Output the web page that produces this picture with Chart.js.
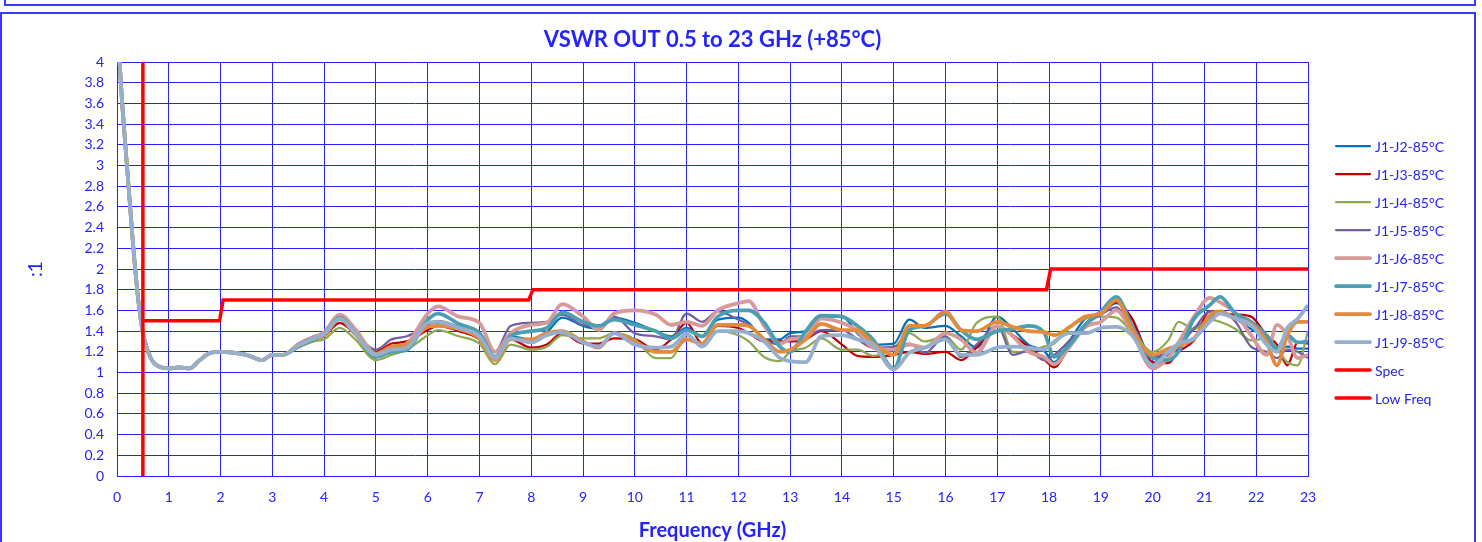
<!DOCTYPE html>
<html>
<head>
<meta charset="utf-8">
<script src="https://cdn.jsdelivr.net/npm/chart.js@4"></script>
<style>
  body { margin: 0; background: #fff; overflow: hidden; }
  .prev { position: absolute; left: 4px; top: -10px; width: 1468px; height: 12px; border: 2px solid #3a3aff; }
  .box { position: absolute; left: 0; top: 12px; width: 1472px; height: 530px; border: 2px solid #3a3aff; }
  canvas { display: block; }
</style>
</head>
<body>
<div class="prev"></div>
<div class="box"><canvas id="vswr" width="1472" height="530"></canvas></div>
<script>
// frequency points (GHz)
const freq = [0.05, 0.1, 0.2, 0.3, 0.4, 0.5, 0.6, 0.7, 0.8, 1.0, 1.2, 1.4, 1.6, 1.8, 2.0, 2.5, 2.8, 3.0, 3.2,
  3.5, 3.8, 4.0, 4.3, 4.6, 5.0, 5.3, 5.6, 6.0, 6.2, 6.6, 7.0, 7.3, 7.6, 8.0, 8.3, 8.6, 9.0, 9.3, 9.6,
  10.0, 10.4, 10.7, 11.0, 11.3, 11.6, 12.0, 12.2, 12.5, 12.8, 13.0, 13.3, 13.6, 14.0, 14.3, 14.6,
  15.0, 15.3, 15.6, 16.0, 16.3, 16.6, 17.0, 17.3, 17.6, 17.9, 18.1, 18.4, 18.7, 19.0, 19.3, 19.6,
  20.0, 20.3, 20.5, 20.8, 21.1, 21.3, 21.6, 21.9, 22.2, 22.4, 22.6, 22.8, 23.0];

// all paths overlap below ~3.3 GHz
const lowBand = [4.0, 3.6, 2.95, 2.3, 1.75, 1.38, 1.2, 1.1, 1.06, 1.04, 1.05, 1.04, 1.12, 1.19, 1.2, 1.17, 1.12, 1.17, 1.17];

const j2 = lowBand.concat([1.26,1.33,1.37,1.51,1.38, 1.16,1.20,1.25,1.48,1.48, 1.42,1.34,1.15,1.35,1.32, 1.39,1.53,1.45,1.42,1.53,
  1.48,1.40,1.35,1.43,1.35, 1.51,1.53,1.48,1.32,1.32, 1.38,1.40,1.54,1.54,1.38, 1.27,1.28,1.51,1.43,1.45,
  1.35,1.24,1.54,1.42,1.27, 1.21,1.10,1.31,1.52,1.57, 1.67,1.52,1.14,1.17,1.23, 1.43,1.51,1.59,1.52,1.42, 1.33,1.20,1.25,1.23,1.23]);
const j3 = lowBand.concat([1.26,1.32,1.35,1.48,1.37, 1.20,1.28,1.30,1.41,1.45, 1.40,1.32,1.14,1.32,1.24, 1.27,1.38,1.28,1.28,1.33,
  1.32,1.22,1.32,1.48,1.28, 1.45,1.43,1.38,1.30,1.30, 1.30,1.32,1.40,1.27,1.16, 1.15,1.17,1.20,1.18,1.20,
  1.12,1.24,1.45,1.36,1.25, 1.13,1.05,1.27,1.47,1.58, 1.68,1.52,1.10,1.09,1.20, 1.31,1.59,1.57,1.56,1.54, 1.36,1.27,1.07,1.29,1.28]);
const j4 = lowBand.concat([1.24,1.30,1.32,1.43,1.32, 1.12,1.17,1.22,1.36,1.41, 1.35,1.28,1.08,1.27,1.22, 1.25,1.36,1.33,1.33,1.38,
  1.32,1.14,1.14,1.36,1.27, 1.40,1.36,1.30,1.15,1.11, 1.20,1.24,1.33,1.22,1.22, 1.16,1.24,1.38,1.30,1.35,
  1.22,1.48,1.54,1.20,1.20, 1.25,1.28,1.44,1.52,1.54, 1.53,1.39,1.20,1.31,1.49, 1.42,1.51,1.49,1.42,1.31, 1.33,1.23,1.10,1.07,1.40]);
const j5 = lowBand.concat([1.28,1.35,1.38,1.52,1.38, 1.22,1.32,1.35,1.46,1.50, 1.44,1.36,1.20,1.45,1.48, 1.49,1.56,1.46,1.45,1.54,
  1.38,1.35,1.32,1.57,1.49, 1.59,1.51,1.46,1.32,1.27, 1.35,1.35,1.41,1.41,1.32, 1.24,1.25,1.28,1.19,1.35,
  1.15,1.27,1.45,1.17,1.21, 1.12,1.17,1.31,1.46,1.56, 1.63,1.36,1.15,1.20,1.28, 1.42,1.59,1.59,1.49,1.25, 1.20,1.14,1.22,1.20,1.14]);
const j6 = lowBand.concat([1.27,1.34,1.39,1.56,1.42, 1.18,1.24,1.28,1.57,1.64, 1.54,1.48,1.20,1.38,1.46, 1.48,1.66,1.54,1.41,1.57,
  1.60,1.56,1.46,1.49,1.45, 1.60,1.67,1.69,1.45,1.28, 1.32,1.35,1.52,1.48,1.40, 1.24,1.22,1.27,1.24,1.38,
  1.32,1.19,1.45,1.35,1.20, 1.15,1.08,1.25,1.44,1.49, 1.60,1.39,1.04,1.14,1.29, 1.54,1.72,1.68,1.57,1.36, 1.17,1.46,1.36,1.14,1.17]);
const j7 = lowBand.concat([1.25,1.32,1.37,1.53,1.38, 1.15,1.20,1.22,1.51,1.57, 1.47,1.38,1.15,1.35,1.40, 1.43,1.58,1.49,1.45,1.51,
  1.46,1.40,1.33,1.41,1.35, 1.54,1.60,1.60,1.48,1.25, 1.20,1.40,1.55,1.54,1.45, 1.32,1.04,1.41,1.45,1.57,
  1.41,1.32,1.40,1.42,1.45, 1.39,1.15,1.27,1.46,1.59, 1.73,1.45,1.14,1.12,1.20, 1.52,1.65,1.73,1.57,1.49, 1.36,1.23,1.36,1.29,1.30]);
const j8 = lowBand.concat([1.26,1.33,1.36,1.52,1.37, 1.18,1.25,1.27,1.44,1.45, 1.42,1.33,1.12,1.32,1.32, 1.38,1.40,1.30,1.24,1.38,
  1.30,1.20,1.20,1.32,1.28, 1.46,1.46,1.45,1.32,1.20, 1.22,1.32,1.47,1.41,1.41, 1.28,1.17,1.45,1.45,1.59,
  1.41,1.40,1.49,1.44,1.40, 1.39,1.36,1.44,1.54,1.57, 1.70,1.42,1.17,1.23,1.26, 1.33,1.55,1.59,1.52,1.47, 1.30,1.07,1.36,1.49,1.49]);
const j9 = lowBand.concat([1.26,1.33,1.37,1.52,1.38, 1.17,1.22,1.24,1.48,1.49, 1.43,1.35,1.14,1.33,1.29, 1.36,1.39,1.29,1.25,1.38,
  1.27,1.24,1.25,1.37,1.25, 1.40,1.40,1.38,1.30,1.14, 1.11,1.10,1.35,1.36,1.32, 1.27,1.03,1.19,1.24,1.32,
  1.17,1.17,1.24,1.25,1.24, 1.22,1.30,1.38,1.38,1.43, 1.44,1.36,1.07,1.20,1.28, 1.33,1.49,1.57,1.52,1.46, 1.27,1.20,1.43,1.52,1.65]);

// spec mask
const specFreq = [0.5, 1.98, 2.05, 7.95, 8.03, 17.95, 18.03, 23];
const specVswr = [1.5, 1.5, 1.7, 1.7, 1.8, 1.8, 2.0, 2.0];
const lowFreqFreq = [0.5, 0.5];
const lowFreqVswr = [0, 4];

const blue = 'rgb(35,35,255)';
Chart.defaults.font.family = 'Lato';

function pts(xs, ys) {
  return xs.map((x, i) => ({ x: x, y: ys[i] }));
}

function trace(label, values, color, width, order) {
  return {
    label: label,
    data: pts(freq, values),
    borderColor: color,
    backgroundColor: color,
    borderWidth: width,
    pointRadius: 0,
    cubicInterpolationMode: 'monotone',
    order: order
  };
}

const sideLegend = {
  id: 'sideLegend',
  afterDraw(chart) {
    const { ctx, chartArea } = chart;
    ctx.save();
    ctx.font = '14px Lato';
    ctx.textBaseline = 'middle';
    ctx.fillStyle = blue;
    ctx.lineCap = 'round';
    chart.data.datasets.forEach((ds, i) => {
      const x = chartArea.right + 28;
      const y = chartArea.top + 84 + i * 28;
      ctx.strokeStyle = ds.borderColor;
      ctx.lineWidth = ds.borderWidth;
      ctx.beginPath();
      ctx.moveTo(x, y);
      ctx.lineTo(x + 34, y);
      ctx.stroke();
      ctx.fillText(ds.label, x + 39, y + 1);
    });
    ctx.restore();
  }
};

new Chart(document.getElementById('vswr'), {
  type: 'line',
  data: {
    datasets: [
      trace('J1-J2-85°C', j2, '#0070C0', 2.25, 9),
      trace('J1-J3-85°C', j3, '#C00000', 2.25, 8),
      trace('J1-J4-85°C', j4, '#8EA94E', 2.25, 7),
      trace('J1-J5-85°C', j5, '#725F9E', 2.25, 6),
      trace('J1-J6-85°C', j6, '#D69A98', 3.75, 5),
      trace('J1-J7-85°C', j7, '#4A9FB2', 3.75, 4),
      trace('J1-J8-85°C', j8, '#E38A3C', 3.75, 3),
      trace('J1-J9-85°C', j9, '#95AFCD', 3.75, 2),
      {
        label: 'Spec',
        data: pts(specFreq, specVswr),
        borderColor: '#FF0000',
        backgroundColor: '#FF0000',
        borderWidth: 3.5,
        pointRadius: 0,
        tension: 0,
        order: 1
      },
      {
        label: 'Low Freq',
        data: pts(lowFreqFreq, lowFreqVswr),
        borderColor: '#FF0000',
        backgroundColor: '#FF0000',
        borderWidth: 3.5,
        pointRadius: 0,
        tension: 0,
        order: 0
      }
    ]
  },
  options: {
    responsive: false,
    animation: false,
    devicePixelRatio: 1,
    layout: { padding: { left: 0, right: 166, top: 0, bottom: 0 } },
    plugins: {
      legend: { display: false },
      tooltip: { enabled: false },
      title: {
        display: true,
        fullSize: false,
        text: 'VSWR OUT 0.5 to 23 GHz (+85°C)',
        color: blue,
        font: { size: 22, weight: 'bold' },
        padding: { top: 12.8, bottom: 8.8 }
      }
    },
    scales: {
      x: {
        type: 'linear',
        min: 0,
        max: 23,
        afterFit: (s) => { s.height = 68; },
        ticks: { stepSize: 1, color: blue, font: { size: 14 }, padding: 13, maxRotation: 0 },
        grid: { color: blue, lineWidth: 1, drawTicks: false },
        border: { color: blue, width: 1 },
        title: {
          display: true,
          text: 'Frequency (GHz)',
          color: blue,
          font: { size: 20, weight: 'bold' },
          padding: { top: 0, bottom: 1 }
        }
      },
      y: {
        min: 0,
        max: 4,
        afterFit: (s) => { s.width = 115; },
        ticks: {
          stepSize: 0.2,
          color: blue,
          font: { size: 14 },
          padding: 13,
          callback: (v) => String(Math.round(v * 10) / 10)
        },
        grid: { color: blue, lineWidth: 1, drawTicks: false },
        border: { color: blue, width: 1 },
        title: {
          display: true,
          text: ':1',
          color: blue,
          font: { size: 19 },
          padding: { top: 22, bottom: 0 }
        }
      }
    }
  },
  plugins: [sideLegend]
});
</script>
</body>
</html>
